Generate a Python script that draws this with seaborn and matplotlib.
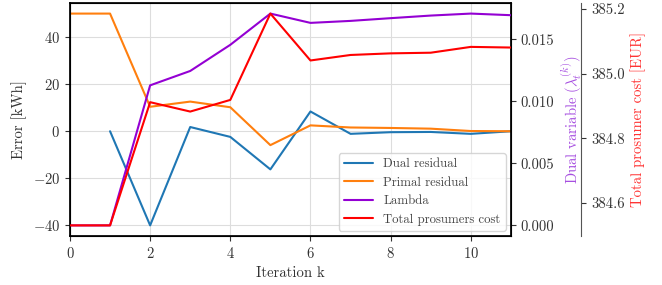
import matplotlib
matplotlib.use("Agg")
import matplotlib.pyplot as plt
import seaborn as sns

# ADMM iteration data
iters = [0, 1, 2, 3, 4, 5, 6, 7, 8, 9, 10, 11]
dual_iters = [1, 2, 3, 4, 5, 6, 7, 8, 9, 10, 11]
dual_residual = [0.0, -40.0, 1.8, -2.4, -16.2, 8.4, -1.1, -0.4, -0.3, -1.1, 0.0]
primal_residual = [50.0, 50.0, 10.4, 12.6, 10.2, -5.9, 2.5, 1.6, 1.4, 1.1, 0.1, 0.0]
lambda_vals = [0.0, 0.0, 0.01130, 0.01246, 0.01457, 0.01709, 0.01634,
               0.01650, 0.01672, 0.01693, 0.01709, 0.01696]
total_cost = [384.531, 384.531, 384.912, 384.883, 384.919, 385.186, 385.041,
              385.058, 385.063, 385.065, 385.083, 385.081]

sns.set_style("whitegrid", {"axes.edgecolor": "black", "grid.color": "#dddddd",
                            "xtick.bottom": True, "ytick.left": True})
plt.rcParams["font.family"] = "serif"
plt.rcParams["font.serif"] = ["cmr10", "DejaVu Serif"]
plt.rcParams["mathtext.fontset"] = "cm"
plt.rcParams["axes.formatter.use_mathtext"] = True
plt.rcParams["font.size"] = 10.6
text_col = "#333333"

fig = plt.figure(figsize=(6.62, 2.85), dpi=100)
ax = fig.add_axes([0.1057, 0.172, 0.666, 0.8175])
ax2 = ax.twinx()
ax3 = ax.twinx()

sns.lineplot(x=dual_iters, y=dual_residual, ax=ax, color="#1f77b4", label="Dual residual", legend=False)
sns.lineplot(x=iters, y=primal_residual, ax=ax, color="#ff7f0e", label="Primal residual", legend=False)
sns.lineplot(x=iters, y=lambda_vals, ax=ax2, color="#9400d3", label="Lambda", legend=False)
sns.lineplot(x=iters, y=total_cost, ax=ax3, color="red", label="Total prosumers cost", legend=False)

ax.set_xlim(0, 11)
ax.set_xlabel("Iteration k", color=text_col)
ax.set_ylabel("Error [kWh]", color=text_col)
ax.set_yticks([-40, -20, 0, 20, 40])
ax.set_xticks([0, 2, 4, 6, 8, 10])
for s in ax.spines.values():
    s.set_linewidth(1.25)

ax2.grid(False)
ax2.set_yticks([0.0, 0.005, 0.010, 0.015])
ax2.set_yticklabels(["0.000", "0.005", "0.010", "0.015"])
ax2.set_ylabel(r"Dual variable $(\lambda_t^{(k)})$", color="#a64ee0")
ax2.tick_params(axis="y", right=True, length=3.5, colors=text_col)

ax3.grid(False)
ax3.spines["right"].set_position(("axes", 1.16))
ax3.spines["right"].set_color("#555555")
for side in ["top", "bottom", "left"]:
    ax3.spines[side].set_visible(False)
ax3.set_yticks([384.6, 384.8, 385.0, 385.2])
ax3.set_yticklabels(["384.6", "384.8", "385.0", "385.2"])
ax3.set_ylabel("Total prosumer cost [EUR]", color="#ff3333")
ax3.tick_params(axis="y", right=True, length=3.5, colors=text_col)

ax.tick_params(axis="both", length=3.5, colors=text_col)

handles = []
labels = []
for a in [ax, ax2, ax3]:
    h, l = a.get_legend_handles_labels()
    handles += h
    labels += l
leg = ax3.legend(handles, labels, loc="lower right", fontsize=9.2, framealpha=0.8,
                 handlelength=2.3, borderaxespad=0.4)
for t in leg.get_texts():
    t.set_color("#444444")

fig.savefig("out.png", dpi=100)
